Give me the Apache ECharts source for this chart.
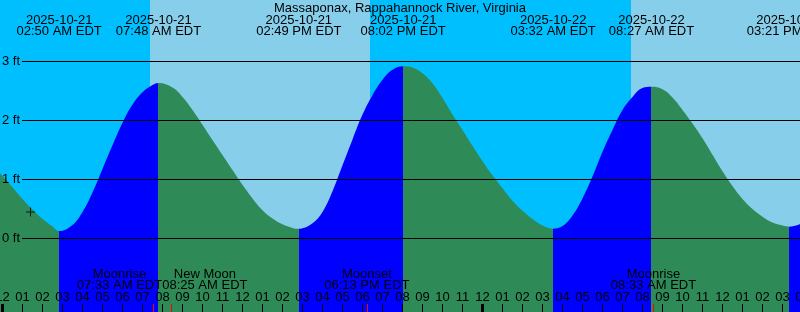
<!DOCTYPE html>
<html><head><meta charset="utf-8">
<script src="https://cdn.jsdelivr.net/npm/echarts@6/dist/echarts.min.js"></script>
<style>html,body{margin:0;padding:0;background:#fff}#c{width:800px;height:312px}</style>
</head><body><div id="c"></div>
<script>
// ---------------- data (hours are counted from 2025-10-21 00:00 EDT) ----------------
const TITLE = 'Massaponax, Rappahannock River, Virginia';

const TIDE_HOURS = [-0.125, 0.5, 1, 1.5, 2, 2.5, 2.833, 3.5, 4, 4.5, 5, 5.5, 6, 6.5, 7, 7.5, 7.8,
  8.5, 9, 9.5, 10, 10.5, 11, 11.5, 12, 12.5, 13, 13.5, 14, 14.5, 14.817,
  15.5, 16, 16.5, 17, 17.5, 18, 18.5, 19, 19.5, 20.033,
  20.5, 21, 21.5, 22, 22.5, 23, 23.5, 24, 24.5, 25, 25.5, 26, 26.5, 27, 27.533,
  28, 28.5, 29, 29.5, 30, 30.5, 31, 31.5, 32, 32.45,
  33, 33.5, 34, 34.5, 35, 35.5, 36, 36.5, 37, 37.5, 38, 38.5, 39, 39.35, 39.875];
const TIDE_FT = [1.105, 0.87, 0.67, 0.49, 0.33, 0.205, 0.127, 0.23, 0.45, 0.78, 1.18, 1.58, 1.96, 2.27, 2.48, 2.60, 2.635,
  2.56, 2.40, 2.18, 1.93, 1.67, 1.415, 1.16, 0.91, 0.68, 0.48, 0.34, 0.24, 0.18, 0.167,
  0.26, 0.45, 0.80, 1.24, 1.68, 2.10, 2.43, 2.69, 2.86, 2.92,
  2.90, 2.80, 2.63, 2.38, 2.10, 1.84, 1.57, 1.31, 1.07, 0.85, 0.64, 0.47, 0.33, 0.22, 0.167,
  0.21, 0.39, 0.68, 1.05, 1.47, 1.84, 2.18, 2.40, 2.55, 2.57,
  2.53, 2.39, 2.18, 1.95, 1.70, 1.42, 1.14, 0.89, 0.67, 0.50, 0.37, 0.27, 0.22, 0.20, 0.24];

const EXTREME_HOURS = [2.833, 7.8, 14.817, 20.033, 27.533, 32.45, 39.35];
const EXTREME_TYPES = ['low', 'high', 'low', 'high', 'low', 'high', 'low'];
const EXTREME_DATES = ['2025-10-21', '2025-10-21', '2025-10-21', '2025-10-21', '2025-10-22', '2025-10-22', '2025-10-22'];
const EXTREME_TIMES = ['02:50 AM EDT', '07:48 AM EDT', '02:49 PM EDT', '08:02 PM EDT', '03:32 AM EDT', '08:27 AM EDT', '03:21 PM EDT'];

const MOON_HOURS = [7.55, 8.417, 18.217, 32.55];
const MOON_NAMES = ['Moonrise', 'New Moon', 'Moonset', 'Moonrise'];
const MOON_TIMES = ['07:33 AM EDT', '08:25 AM EDT', '06:13 PM EDT', '08:33 AM EDT'];

const SUNRISE_HOURS = [7.375, 31.425];
const SUNSET_HOURS = [18.375];

const HOUR_TICKS = [0, 1, 2, 3, 4, 5, 6, 7, 8, 9, 10, 11, 12, 13, 14, 15, 16, 17, 18, 19, 20,
  21, 22, 23, 24, 25, 26, 27, 28, 29, 30, 31, 32, 33, 34, 35, 36, 37, 38, 39, 40];
const MIDNIGHT_HOURS = [0, 24];
const FT_TICKS = [0, 1, 2, 3];
const MARK_POINT = [1.4, 0.45];

// ---------------- layout / style ----------------
const X_MIN = -0.125, X_MAX = 40;
const Y_MIN = -1.2458, Y_MAX = 4.0424;
const GRID_X0 = 0.975;               // where the horizontal rules start
const MOON_LABEL_SHIFT = ['L', 'R', 'C', 'C'];
const FONT = "'Liberation Sans', Arial, sans-serif";
const C_NIGHT = '#00BFFF', C_DAY = '#87CEEB', C_RISE = '#0000FF', C_FALL = '#2E8B57';

function nearest(arr, v) {
  let bi = 0;
  arr.forEach((a, i) => { if (Math.abs(a - v) < Math.abs(arr[bi] - v)) bi = i; });
  return bi;
}

// day intervals
const dayAreas = SUNRISE_HOURS.map(sr => {
  const ss = SUNSET_HOURS.find(s => s > sr);
  return [{ xAxis: sr }, { xAxis: ss === undefined ? X_MAX : ss }];
});

// rising / falling colour pieces
const pieces = [];
pieces.push({ lt: EXTREME_HOURS[0], color: EXTREME_TYPES[0] === 'low' ? C_FALL : C_RISE });
for (let i = 0; i < EXTREME_HOURS.length - 1; i++) {
  pieces.push({ gte: EXTREME_HOURS[i], lt: EXTREME_HOURS[i + 1], color: EXTREME_TYPES[i] === 'low' ? C_RISE : C_FALL });
}
const last = EXTREME_HOURS.length - 1;
pieces.push({ gte: EXTREME_HOURS[last], color: EXTREME_TYPES[last] === 'low' ? C_RISE : C_FALL });

const baseX = {
  type: 'value', gridIndex: 0, min: X_MIN, max: X_MAX, z: 10,
  splitLine: { show: false }, axisLine: { show: false, onZero: false }
};
const txt = { color: '#000', fontSize: 13, fontFamily: FONT };

function moonAxis(parity) {
  const vals = MOON_HOURS.filter((_, i) => i % 2 === parity);
  return Object.assign({}, baseX, {
    position: 'bottom',
    axisTick: { show: true, inside: true, length: 8, customValues: vals, lineStyle: { color: '#FF0000', width: 1 } },
    axisLabel: {
      show: true, inside: true, margin: 20.4, customValues: vals, hideOverlap: false,
      formatter: v => { const i = nearest(MOON_HOURS, v); const k = MOON_LABEL_SHIFT[i];
        return '{' + k + '|' + MOON_NAMES[i] + '}\n{' + k + '|' + MOON_TIMES[i] + '}'; },
      rich: {
        L: Object.assign({ lineHeight: 11.7, padding: [0, 68, 0, 0] }, txt),
        R: Object.assign({ lineHeight: 11.7, padding: [0, 0, 0, 68] }, txt),
        C: Object.assign({ lineHeight: 11.7 }, txt)
      }
    }
  });
}

const option = {
  animation: false,
  backgroundColor: C_NIGHT,
  title: {
    text: TITLE, left: 'center', top: 2, padding: 0,
    textStyle: { color: '#000', fontSize: 13, fontWeight: 'normal', fontFamily: FONT }
  },
  grid: { left: 0, right: -2.5, top: 0, bottom: 0, outerBoundsMode: 'none', containLabel: false },
  xAxis: [
    Object.assign({}, baseX, {
      position: 'bottom',
      axisTick: { show: true, inside: true, length: 8, customValues: HOUR_TICKS, lineStyle: { color: '#000', width: 1 } },
      axisLabel: Object.assign({ show: true, inside: true, margin: 8, lineHeight: 13, customValues: HOUR_TICKS,
        formatter: v => { const h = Math.round(v) % 12; return String(h === 0 ? 12 : h).padStart(2, '0'); } }, txt)
    }),
    Object.assign({}, baseX, {
      position: 'bottom',
      axisTick: { show: true, inside: true, length: 8, customValues: MIDNIGHT_HOURS, lineStyle: { color: '#000', width: 3 } },
      axisLabel: { show: false }
    }),
    moonAxis(0),
    moonAxis(1),
    Object.assign({}, baseX, {
      position: 'top',
      axisTick: { show: false },
      axisLabel: Object.assign({ show: true, inside: true, margin: 14.3, lineHeight: 11.7, customValues: EXTREME_HOURS,
        formatter: v => { const i = nearest(EXTREME_HOURS, v); return EXTREME_DATES[i] + '\n' + EXTREME_TIMES[i]; } }, txt)
    })
  ],
  yAxis: [{ type: 'value', gridIndex: 0, min: Y_MIN, max: Y_MAX, show: false }],
  visualMap: { type: 'piecewise', show: false, dimension: 0, seriesIndex: 1, pieces: pieces },
  series: [
    {
      type: 'line', z: 1, data: [], silent: true,
      markArea: { silent: true, itemStyle: { color: C_DAY, opacity: 1 }, data: dayAreas }
    },
    {
      type: 'line', z: 2, silent: true, smooth: 0.4, showSymbol: false, symbol: 'none',
      data: TIDE_HOURS.map((h, i) => [h, TIDE_FT[i]]),
      lineStyle: { width: 0, opacity: 0 },
      areaStyle: { opacity: 1, origin: 'start' }
    },
    {
      type: 'line', z: 3, data: [], silent: true,
      markLine: {
        silent: true, symbol: ['none', 'none'], animation: false,
        lineStyle: { color: '#000', width: 1, type: 'solid' },
        label: Object.assign({ show: true, position: 'start', distance: 2, formatter: '{b}' }, txt),
        emphasis: { disabled: true },
        data: FT_TICKS.map(v => [{ name: v + ' ft', coord: [GRID_X0, v] }, { coord: [X_MAX, v] }])
      }
    },
    {
      type: 'scatter', z: 4, silent: true,
      symbol: 'path://M0,4h9v1h-9zM4,0h1v9h-1z', symbolSize: [9, 9],
      itemStyle: { color: '#000' },
      data: [MARK_POINT]
    }
  ]
};

const chart = echarts.init(document.getElementById('c'), null, { renderer: 'canvas' });
chart.setOption(option);
</script>
</body></html>
